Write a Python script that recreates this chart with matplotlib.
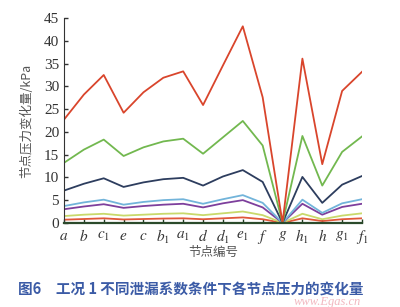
import matplotlib
matplotlib.use('Agg')
import matplotlib.pyplot as plt
import numpy as np

plt.rcParams['mathtext.fontset'] = 'stix'

# node labels along the x axis
nodes = ['$a$', '$b$', '$c_1$', '$e$', '$c$', '$b_1$', '$a_1$', '$d$',
         '$d_1$', '$e_1$', '$f$', '$g$', '$h_1$', '$h$', '$g_1$', '$f_1$']

# pressure change (kPa) for each leakage coefficient
s_red = [22.7, 28.2, 32.5, 24.2, 28.7, 31.9, 33.3, 25.9, 34.6, 43.2, 27.6, 0, 36.1, 12.9, 29.0, 33.2]
s_green = [13.2, 16.1, 18.3, 14.7, 16.6, 17.9, 18.5, 15.2, 18.8, 22.4, 17.0, 0, 19.1, 8.2, 15.6, 19.0]
s_navy = [7.1, 8.6, 9.8, 7.9, 8.9, 9.6, 9.9, 8.2, 10.2, 11.6, 9.0, 0, 10.1, 4.4, 8.4, 10.3]
s_lblue = [3.7, 4.5, 5.1, 4.0, 4.6, 5.0, 5.2, 4.2, 5.2, 6.1, 4.4, 0, 5.1, 2.2, 4.3, 5.2]
s_purple = [3.0, 3.6, 4.1, 3.3, 3.7, 4.0, 4.2, 3.4, 4.3, 5.0, 3.4, 0, 4.2, 1.8, 3.5, 4.2]
s_yellow = [1.5, 1.8, 2.0, 1.6, 1.8, 2.0, 2.1, 1.7, 2.1, 2.5, 1.7, 0, 2.0, 0.8, 1.6, 2.1]
s_small = [0.7, 0.85, 1.0, 0.75, 0.85, 0.95, 1.0, 0.8, 1.0, 1.2, 0.8, 0, 1.0, 0.4, 0.8, 1.0]

series = [s_small, s_yellow, s_purple, s_lblue, s_navy, s_green, s_red]
colors = ['#e0573a', '#c9d96b', '#7d3f9c', '#72b4da', '#2d3d5e', '#72b84f', '#d9452c']

fig = plt.figure(figsize=(4.0, 3.07), dpi=100)
ax = fig.add_axes([0.16, 0.274, 0.745, 0.667])

x = np.arange(len(nodes))
for vals, c in zip(series, colors):
    ax.plot(x, vals, color=c, lw=1.3)

ax.set_xlim(0, len(nodes) - 1)
ax.set_ylim(0, 45)
ax.set_yticks(np.arange(0, 46, 5))
ax.set_xticks(x)
ax.set_xticklabels(nodes, fontsize=11, color='#333333')
for lab in ax.get_yticklabels():
    lab.set_family('Liberation Serif')
    lab.set_fontsize(11)
    lab.set_color('#333333')

ax.tick_params(direction='in', length=3, width=1, colors='#333333')
ax.tick_params(axis='x', colors='#1f3a1f', labelcolor='#333333')
ax.spines['top'].set_visible(False)
ax.spines['right'].set_visible(False)
ax.spines['left'].set_color('#333333')
ax.spines['bottom'].set_color('#2b4a2b')
ax.spines['bottom'].set_linewidth(1.6)

cjk = ['Noto Sans CJK SC', 'DejaVu Sans']
ax.set_ylabel('节点压力变化量/kPa', family=cjk, fontsize=9, color='#555555', labelpad=8)
ax.set_xlabel('节点编号', family=cjk, fontsize=9, color='#555555', labelpad=0)

fig.text(0.045, 0.045, '图6　工况 1 不同泄漏系数条件下各节点压力的变化量',
         family=cjk, fontsize=10.5, fontweight='bold', color='#3b5ba6')
fig.text(0.735, 0.008, 'www.Egas.cn', fontsize=9, style='italic',
         color='#f2b8c0', family='Liberation Serif')

fig.savefig('out.png', dpi=100)
